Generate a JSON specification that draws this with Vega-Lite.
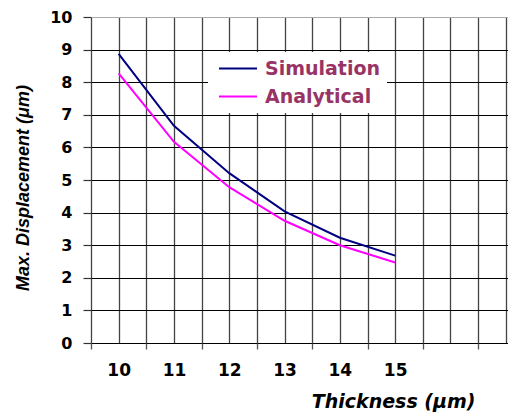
{
  "$schema": "https://vega.github.io/schema/vega-lite/v6.json",
  "width": 417,
  "height": 326,
  "autosize": {"type": "none"},
  "padding": {"left": 91, "top": 17, "right": 0, "bottom": 69},
  "background": "white",
  "config": {"view": {"stroke": null}},
  "data": {
    "values": [
      {"thickness": 10, "series": "Simulation", "displacement": 8.87},
      {"thickness": 11, "series": "Simulation", "displacement": 6.66},
      {"thickness": 12, "series": "Simulation", "displacement": 5.21},
      {"thickness": 13, "series": "Simulation", "displacement": 4.04},
      {"thickness": 14, "series": "Simulation", "displacement": 3.23},
      {"thickness": 15, "series": "Simulation", "displacement": 2.68},
      {"thickness": 10, "series": "Analytical", "displacement": 8.27},
      {"thickness": 11, "series": "Analytical", "displacement": 6.17},
      {"thickness": 12, "series": "Analytical", "displacement": 4.78},
      {"thickness": 13, "series": "Analytical", "displacement": 3.75},
      {"thickness": 14, "series": "Analytical", "displacement": 3.0},
      {"thickness": 15, "series": "Analytical", "displacement": 2.47}
    ]
  },
  "mark": {"type": "line", "strokeWidth": 2},
  "encoding": {
    "x": {
      "field": "thickness",
      "type": "quantitative",
      "scale": {"domain": [9.5, 17.04], "nice": false, "zero": false},
      "axis": {
        "values": [9.5, 10, 10.5, 11, 11.5, 12, 12.5, 13, 13.5, 14, 14.5, 15, 15.5, 16, 16.5, 17],
        "labelExpr": "datum.value % 1 == 0 && datum.value <= 15 ? format(datum.value, 'd') : ''",
        "labelFlush": false,
        "labelOverlap": false,
        "labelFont": "DejaVu Sans",
        "labelFontWeight": "bold",
        "labelFontSize": 17,
        "labelColor": "black",
        "labelPadding": 13,
        "domain": false,
        "grid": true,
        "gridColor": "#444444",
        "gridWidth": 1.3,
        "gridOpacity": 1,
        "ticks": true,
        "tickSize": 6,
        "tickColor": "#555555",
        "tickWidth": 1.3,
        "tickOpacity": {"condition": {"test": "datum.value % 1 != 0", "value": 1}, "value": 0},
        "title": "Thickness (μm)",
        "titleFont": "DejaVu Sans",
        "titleFontWeight": "bold",
        "titleFontStyle": "italic",
        "titleFontSize": 19,
        "titleColor": "black",
        "titleAlign": "right",
        "titleBaseline": "alphabetic",
        "titleX": 384,
        "titleY": 64
      }
    },
    "y": {
      "field": "displacement",
      "type": "quantitative",
      "scale": {"domain": [0, 10], "nice": false},
      "axis": {
        "values": [0, 1, 2, 3, 4, 5, 6, 7, 8, 9, 10],
        "labelFont": "DejaVu Sans",
        "labelFontWeight": "bold",
        "labelFontSize": 16,
        "labelColor": "black",
        "labelPadding": 11,
        "domain": false,
        "grid": true,
        "gridColor": {"condition": {"test": "datum.value == 10", "value": "#aaaaaa"}, "value": "black"},
        "gridWidth": 1.2,
        "gridOpacity": 1,
        "ticks": true,
        "tickSize": 8,
        "tickColor": "#333333",
        "tickWidth": 1.2,
        "title": "Max. Displacement (μm)",
        "titleFont": "Liberation Sans",
        "titleFontWeight": "bold",
        "titleFontStyle": "italic",
        "titleFontSize": 18,
        "titleColor": "black",
        "titleAngle": -90,
        "titleAlign": "center",
        "titleBaseline": "middle",
        "titleX": -67.5,
        "titleY": 170.5
      }
    },
    "color": {
      "field": "series",
      "type": "nominal",
      "sort": ["Simulation", "Analytical"],
      "scale": {"domain": ["Simulation", "Analytical"], "range": ["#000080", "#ff00ff"]},
      "legend": {
        "title": null,
        "orient": "none",
        "legendX": 117,
        "legendY": 35,
        "fillColor": "white",
        "padding": 6,
        "symbolType": "M-1,0H3",
        "symbolSize": 361,
        "symbolStrokeWidth": 2,
        "symbolOffset": 4,
        "labelOffset": 26,
        "rowPadding": 7,
        "labelFont": "DejaVu Sans",
        "labelFontWeight": "bold",
        "labelFontSize": 19,
        "labelColor": "#993366",
        "labelLimit": 300
      }
    }
  }
}
